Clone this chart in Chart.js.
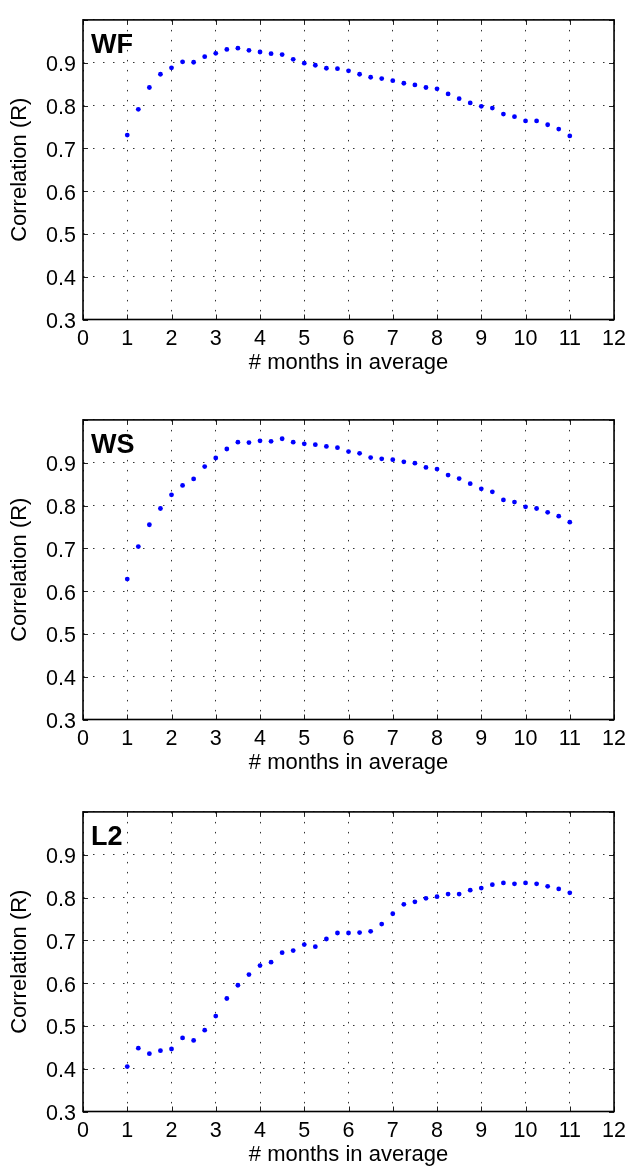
<!DOCTYPE html>
<html>
<head>
<meta charset="utf-8">
<script src="https://cdn.jsdelivr.net/npm/chart.js@4.4.1/dist/chart.umd.min.js"></script>
<style>
  html, body { margin: 0; padding: 0; background: #fff; overflow: hidden; }
  .panel { position: absolute; left: 0; width: 633px; height: 390px; }
</style>
</head>
<body>
<div class="panel" style="top:0px"><canvas id="wf" width="633" height="390"></canvas></div>
<div class="panel" style="top:400px"><canvas id="ws" width="633" height="390"></canvas></div>
<div class="panel" style="top:792px"><canvas id="l2" width="633" height="390"></canvas></div>
<script>
  const months = [1, 1.25, 1.5, 1.75, 2, 2.25, 2.5, 2.75, 3, 3.25, 3.5, 3.75, 4, 4.25, 4.5, 4.75,
    5, 5.25, 5.5, 5.75, 6, 6.25, 6.5, 6.75, 7, 7.25, 7.5, 7.75, 8, 8.25, 8.5, 8.75,
    9, 9.25, 9.5, 9.75, 10, 10.25, 10.5, 10.75, 11];

  const wf = [0.731, 0.791, 0.842, 0.873, 0.888, 0.902, 0.901, 0.914, 0.922, 0.931, 0.934, 0.929,
    0.925, 0.921, 0.919, 0.908, 0.899, 0.894, 0.887, 0.886, 0.881, 0.873, 0.866, 0.863,
    0.858, 0.852, 0.848, 0.842, 0.839, 0.827, 0.816, 0.806, 0.798, 0.794, 0.780, 0.774,
    0.764, 0.764, 0.755, 0.745, 0.729];

  const ws = [0.628, 0.704, 0.755, 0.793, 0.825, 0.847, 0.862, 0.891, 0.911, 0.932, 0.948, 0.947,
    0.951, 0.950, 0.956, 0.948, 0.944, 0.942, 0.938, 0.935, 0.926, 0.922, 0.912, 0.909,
    0.907, 0.902, 0.899, 0.889, 0.885, 0.871, 0.863, 0.851, 0.839, 0.832, 0.813, 0.808,
    0.797, 0.793, 0.784, 0.775, 0.761];

  const l2 = [0.405, 0.448, 0.435, 0.442, 0.446, 0.472, 0.466, 0.490, 0.523, 0.564, 0.595, 0.620,
    0.641, 0.649, 0.671, 0.676, 0.690, 0.685, 0.703, 0.717, 0.717, 0.718, 0.721, 0.738,
    0.762, 0.784, 0.790, 0.798, 0.802, 0.808, 0.808, 0.817, 0.822, 0.830, 0.834, 0.832,
    0.834, 0.832, 0.826, 0.820, 0.811];

  const xTitle = '# months in average';
  const yTitle = 'Correlation (R)';

  const fam = '"Liberation Sans", Arial, Helvetica, sans-serif';

  // box round the plot, matlab style inner ticks, panel name
  const frame = {
    id: 'frame',
    afterDatasetsDraw(chart, args, opts) {
      const {ctx, chartArea: a, scales: {x, y}} = chart;
      ctx.save();
      ctx.strokeStyle = '#222';
      ctx.lineWidth = 1;
      ctx.beginPath();
      x.ticks.forEach(t => {
        const px = Math.round(x.getPixelForValue(t.value)) + 0.5;
        ctx.moveTo(px, a.bottom); ctx.lineTo(px, a.bottom - 5);
        ctx.moveTo(px, a.top); ctx.lineTo(px, a.top + 5);
      });
      y.ticks.forEach(t => {
        const py = Math.round(y.getPixelForValue(t.value)) + 0.5;
        ctx.moveTo(a.left, py); ctx.lineTo(a.left + 5, py);
        ctx.moveTo(a.right, py); ctx.lineTo(a.right - 5, py);
      });
      ctx.stroke();
      ctx.strokeStyle = '#000';
      ctx.lineWidth = 1.6;
      ctx.strokeRect(a.left, a.top, a.right - a.left, a.bottom - a.top);
      ctx.fillStyle = '#000';
      ctx.font = 'bold 27px ' + fam;
      ctx.textBaseline = 'alphabetic';
      ctx.fillText(opts.text, a.left + 8, a.top + 33);
      ctx.restore();
    }
  };

  function makeChart(id, values, name, padTop) {
    const pts = months.map((m, i) => ({x: m, y: values[i]}));
    return new Chart(document.getElementById(id), {
      type: 'scatter',
      data: {
        datasets: [{
          data: pts,
          backgroundColor: '#0000ff',
          borderWidth: 0,
          pointRadius: 2.4,
          pointHoverRadius: 2.4,
        }]
      },
      options: {
        responsive: false,
        animation: false,
        events: [],
        layout: { padding: { top: padTop, right: 15, left: 0, bottom: 0 } },
        plugins: {
          legend: { display: false },
          tooltip: { enabled: false },
          frame: { text: name },
        },
        scales: {
          x: {
            type: 'linear',
            min: 0,
            max: 12,
            afterFit: s => { s.height = 70.5; },
            ticks: {
              stepSize: 1,
              padding: 7,
              color: '#000',
              font: { family: fam, size: 21.5 },
            },
            grid: { color: '#333', lineWidth: 1, drawTicks: false },
            border: { display: false, dash: [1.5, 8.5] },
            title: {
              display: true,
              text: xTitle,
              color: '#000',
              font: { family: fam, size: 22 },
              padding: { top: 0, bottom: 14 },
            },
          },
          y: {
            type: 'linear',
            min: 0.3,
            max: 1.0,
            afterFit: s => { s.width = 83; },
            ticks: {
              stepSize: 0.1,
              padding: 7,
              labelOffset: 2.5,
              color: '#000',
              font: { family: fam, size: 21.5 },
              callback: v => (v > 0.95 ? '' : v.toFixed(1)),
            },
            grid: { color: '#333', lineWidth: 1, drawTicks: false },
            border: { display: false, dash: [1.5, 8.5] },
            title: {
              display: true,
              text: yTitle,
              color: '#000',
              font: { family: fam, size: 22 },
              padding: { top: 6.5, bottom: 0 },
            },
          },
        },
      },
      plugins: [frame],
    });
  }

  makeChart('wf', wf, 'WF', 8);
  makeChart('ws', ws, 'WS', 8.5);
  makeChart('l2', l2, 'L2', 8);
</script>
</body>
</html>
